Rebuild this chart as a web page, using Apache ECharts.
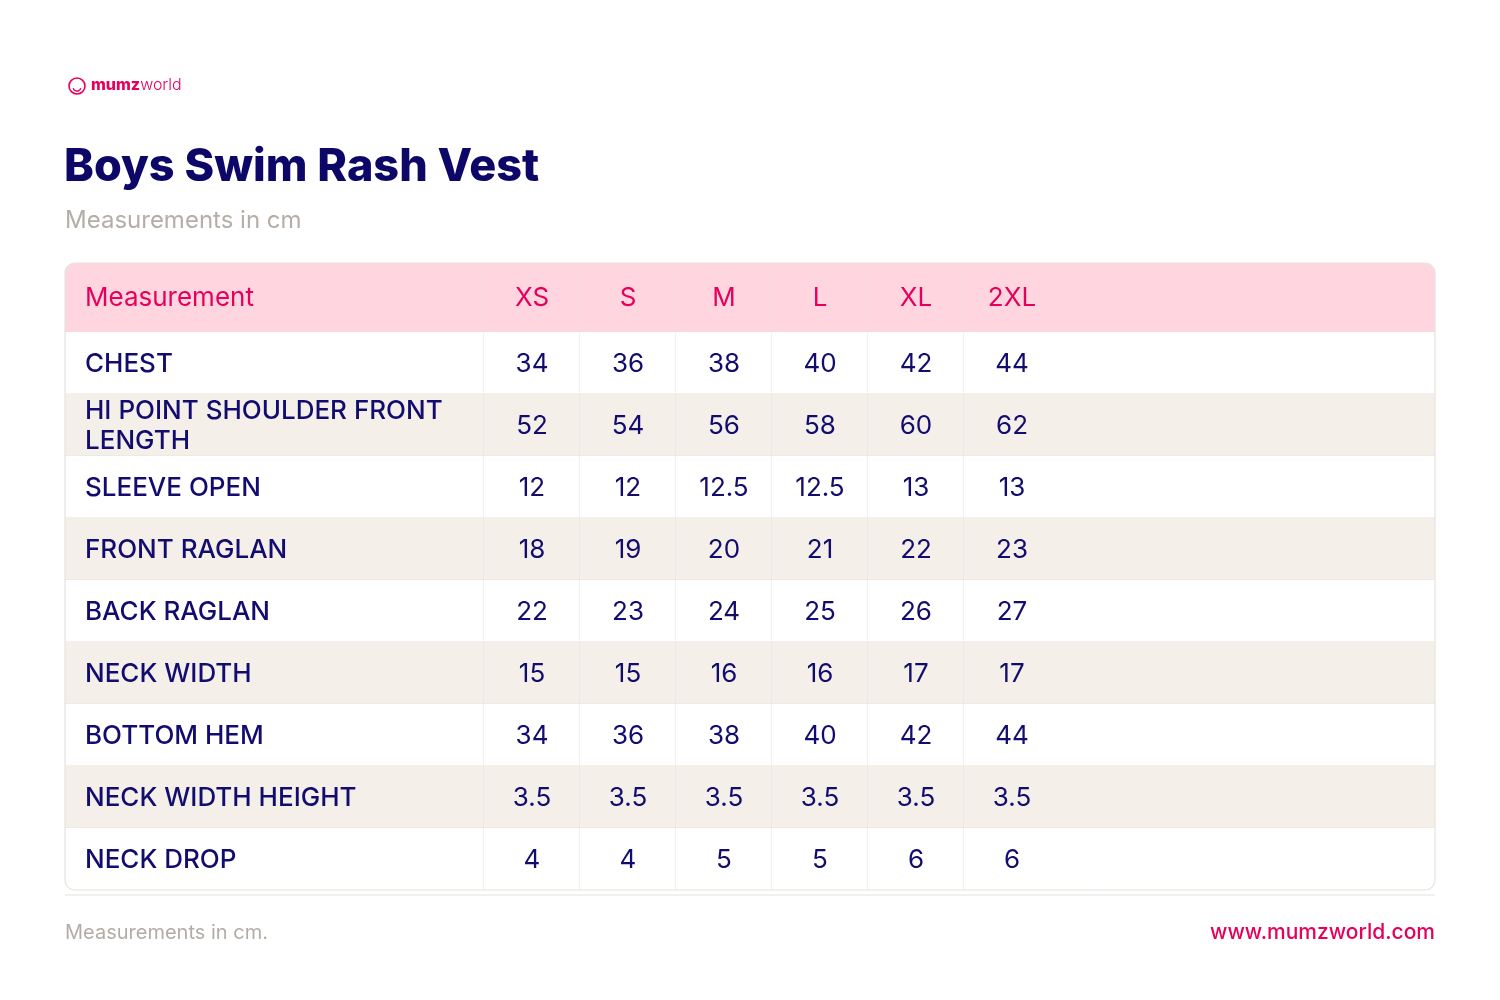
<!DOCTYPE html>
<html>
<head>
<meta charset="utf-8">
<script src="https://cdn.jsdelivr.net/npm/echarts@6/dist/echarts.min.js"></script>
<style>
  html, body { margin: 0; background: #fff; }
  #main { width: 1500px; height: 1000px; }
</style>
</head>
<body>
<div id="main"></div>
<script>
// 表格数据
const sizes = ['XS', 'S', 'M', 'L', 'XL', '2XL']
const measurements = [
  'CHEST',
  'HI POINT SHOULDER FRONT\nLENGTH',
  'SLEEVE OPEN',
  'FRONT RAGLAN',
  'BACK RAGLAN',
  'NECK WIDTH',
  'BOTTOM HEM',
  'NECK WIDTH HEIGHT',
  'NECK DROP',
]
const chest = [34, 36, 38, 40, 42, 44]
const hiPointShoulder = [52, 54, 56, 58, 60, 62]
const sleeveOpen = [12, 12, 12.5, 12.5, 13, 13]
const frontRaglan = [18, 19, 20, 21, 22, 23]
const backRaglan = [22, 23, 24, 25, 26, 27]
const neckWidth = [15, 15, 16, 16, 17, 17]
const bottomHem = [34, 36, 38, 40, 42, 44]
const neckWidthHeight = [3.5, 3.5, 3.5, 3.5, 3.5, 3.5]
const neckDrop = [4, 4, 5, 5, 6, 6]
const rows = [chest, hiPointShoulder, sleeveOpen, frontRaglan, backRaglan,
  neckWidth, bottomHem, neckWidthHeight, neckDrop]

// 版式（坐标轴单位 = 像素）
const colEdges = [0, 419, 515, 611, 707, 803, 899, 1370]
const headH = 69, rowH = 62
const tableH = headH + rowH * rows.length
const rowTop = (r) => (r === 0 ? 0 : headH + (r - 1) * rowH)
const rowBottom = (r) => (r === 0 ? headH : headH + r * rowH)

const NAVY = '#120c6e'
const PINK = '#e6005c'
const LINE = '#e7e3de'

// 单元格: [列, 行, 文本]，行0为表头
const cells = []
cells.push([0, 0, 'Measurement'])
sizes.forEach((s, i) => cells.push([i + 1, 0, s]))
rows.forEach((vals, r) => {
  cells.push([0, r + 1, measurements[r]])
  vals.forEach((v, i) => cells.push([i + 1, r + 1, String(v)]))
})

const lastRow = rows.length
const lastCol = sizes.length

function renderCell(params, api) {
  const c = api.value(0), r = api.value(1)
  const text = cells[params.dataIndex][2]
  const p0 = api.coord([colEdges[c], rowTop(r)])
  const p1 = api.coord([colEdges[c + 1], rowBottom(r)])
  const x = p0[0], y = p0[1], w = p1[0] - p0[0], h = p1[1] - p0[1]
  let fill = '#ffffff'
  if (r === 0) fill = '#ffd6e0'
  else if (r % 2 === 0) fill = '#f4efe9'
  let radius = [0, 0, 0, 0]
  if (r === 0 && c === 0) radius = [10, 0, 0, 0]
  if (r === 0 && c === lastCol) radius = [0, 10, 0, 0]
  if (r === lastRow && c === 0) radius = [0, 0, 0, 10]
  if (r === lastRow && c === lastCol) radius = [0, 0, 10, 0]

  const children = [
    { type: 'rect', shape: { x, y, width: w, height: h, r: radius }, style: { fill } },
  ]
  if (c < lastCol) {
    children.push({ type: 'line', shape: { x1: x + w, y1: y, x2: x + w, y2: y + h }, style: { stroke: LINE, lineWidth: 1 } })
  }
  if (r < lastRow) {
    children.push({ type: 'line', shape: { x1: x, y1: y + h, x2: x + w, y2: y + h }, style: { stroke: LINE, lineWidth: 1 } })
  }
  const isLabel = c === 0
  const tx = isLabel ? x + 20 : x + 48
  children.push({
    type: 'text',
    style: {
      text,
      x: tx,
      y: y + h / 2 + 1,
      align: isLabel ? 'left' : 'center',
      verticalAlign: 'middle',
      fill: r === 0 ? PINK : NAVY,
      font: (isLabel && r > 0 ? '500 ' : '400 ') + '26px Inter',
      lineHeight: 30,
    },
  })
  return { type: 'group', children }
}

function renderFrame(params, api) {
  const p0 = api.coord([0, 0])
  const p1 = api.coord([colEdges[colEdges.length - 1], tableH])
  return {
    type: 'group',
    children: [
      {
        type: 'rect',
        shape: { x: p0[0], y: p0[1], width: p1[0] - p0[0], height: p1[1] - p0[1], r: 10 },
        style: { fill: 'none', stroke: LINE, lineWidth: 1.2 },
      },
      {
        type: 'line',
        shape: { x1: p0[0], y1: p1[1] + 5, x2: p1[0], y2: p1[1] + 5 },
        style: { stroke: LINE, lineWidth: 1 },
      },
    ],
  }
}

const myChart = echarts.init(document.getElementById('main'))

const option = {
  backgroundColor: '#ffffff',
  animation: false,
  grid: { left: 65, top: 263, width: 1370, height: tableH },
  xAxis: { type: 'value', min: 0, max: colEdges[colEdges.length - 1], show: false },
  yAxis: { type: 'value', min: 0, max: tableH, inverse: true, show: false },
  graphic: [
    // logo
    {
      type: 'circle', shape: { cx: 77, cy: 86, r: 8 },
      style: { fill: 'none', stroke: PINK, lineWidth: 1.6 },
    },
    {
      type: 'arc', shape: { cx: 77, cy: 87, r: 4, startAngle: 0.3, endAngle: Math.PI - 0.3 },
      style: { fill: 'none', stroke: PINK, lineWidth: 1.4 },
    },
    {
      type: 'text', left: 91, top: 77,
      style: {
        text: '{a|mumz}{b|world}',
        rich: {
          a: { fontFamily: 'Inter', fontWeight: 800, fontSize: 16, fill: PINK },
          b: { fontFamily: 'Inter', fontWeight: 300, fontSize: 16, fill: PINK },
        },
      },
    },
    {
      type: 'text', left: 64, top: 145,
      style: { text: 'Boys Swim Rash Vest', font: '800 45px Inter', fill: '#0d0868' },
    },
    {
      type: 'text', left: 65, top: 209,
      style: { text: 'Measurements in cm', font: '400 24px Inter', fill: '#b5aea7' },
    },
    {
      type: 'text', left: 65, top: 923,
      style: { text: 'Measurements in cm.', font: '400 20px Inter', fill: '#b3aca6' },
    },
    {
      type: 'text', right: 65, top: 922,
      style: { text: 'www.mumzworld.com', font: '500 21px Inter', fill: PINK },
    },
  ],
  series: [
    {
      type: 'custom',
      renderItem: renderCell,
      data: cells.map((d) => [d[0], d[1]]),
      silent: true,
      z: 1,
    },
    {
      type: 'custom',
      renderItem: renderFrame,
      data: [[0, 0]],
      silent: true,
      z: 2,
    },
  ],
}

myChart.setOption(option)
</script>
</body>
</html>
